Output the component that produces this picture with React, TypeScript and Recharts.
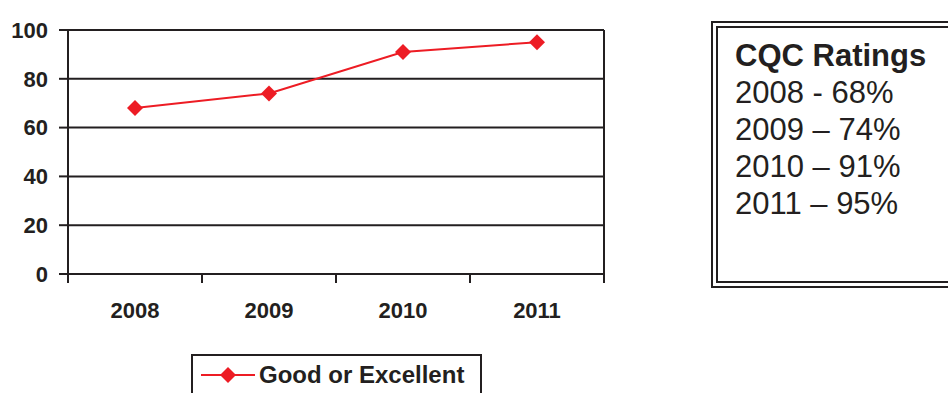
import { LineChart, Line, XAxis, YAxis, CartesianGrid, Legend, ReferenceLine } from 'recharts';

const years = ['2008', '2009', '2010', '2011'];
const goodOrExcellent = [68, 74, 91, 95];
const yTicks = [0, 20, 40, 60, 80, 100];
const ratingLines = ['2008 - 68%', '2009 – 74%', '2010 – 91%', '2011 – 95%'];

const RED = '#ed1c24';
const INK = '#231f20';
const FONT = '"Liberation Sans", Arial, sans-serif';

// points sit in the middle of each year band, ticks on the band edges
const data = years.map((year, i) => ({ pos: i + 0.5, year, value: goodOrExcellent[i] }));
const xTicks = years.flatMap((_, i) => [i, i + 0.5]).concat(years.length);

const Diamond = ({ cx, cy }: any) => {
  if (cx == null || cy == null) return null;
  const r = 8;
  return <path d={`M${cx},${cy - r}L${cx + r},${cy}L${cx},${cy + r}L${cx - r},${cy}Z`} fill={RED} />;
};

const XTick = ({ x, y, payload }: any) => {
  const v = payload.value;
  if (Number.isInteger(v)) {
    return <line x1={x} x2={x} y1={y} y2={y + 9} stroke={INK} strokeWidth={2} />;
  }
  const label = years[Math.floor(v)];
  return (
    <text x={x} y={y + 44} textAnchor="middle" fontFamily={FONT} fontWeight="bold" fontSize={22} fill={INK}>
      {label}
    </text>
  );
};

const LegendBox = () => (
  <div
    style={{
      border: `2px solid ${INK}`,
      width: 291,
      height: 50,
      boxSizing: 'border-box',
      display: 'flex',
      alignItems: 'flex-start',
      paddingTop: 6,
      paddingLeft: 6,
      background: '#fff'
    }}
  >
    <svg width={58} height={24} style={{ marginTop: 1 }}>
      <line x1={2} x2={56} y1={12} y2={12} stroke={RED} strokeWidth={2} />
      <path d="M29,4L37,12L29,20L21,12Z" fill={RED} />
    </svg>
    <span style={{ fontFamily: FONT, fontWeight: 'bold', fontSize: 24, color: INK, marginLeft: 2, lineHeight: '26px' }}>
      Good or Excellent
    </span>
  </div>
);

export default function App() {
  return (
    <div style={{ position: 'absolute', left: 0, top: 0, width: 948, height: 393, overflow: 'hidden', background: '#fff' }}>
      <LineChart width={640} height={393} data={data} margin={{ top: 30, right: 36, bottom: 79, left: 0 }}>
        <CartesianGrid vertical={false} stroke={INK} strokeWidth={2} />
        <ReferenceLine x={years.length} stroke={INK} strokeWidth={2} />
        <XAxis
          type="number"
          dataKey="pos"
          domain={[0, years.length]}
          ticks={xTicks}
          interval={0}
          tick={<XTick />}
          tickLine={false}
          tickSize={0}
          tickMargin={0}
          height={40}
          axisLine={{ stroke: INK, strokeWidth: 2 }}
        />
        <YAxis
          domain={[0, 100]}
          ticks={yTicks}
          width={68}
          tickSize={9}
          tickMargin={11}
          axisLine={{ stroke: INK, strokeWidth: 2 }}
          tickLine={{ stroke: INK, strokeWidth: 2 }}
          tick={{ fill: INK, fontFamily: FONT, fontWeight: 'bold', fontSize: 22 }}
        />
        <Legend
          layout="horizontal"
          verticalAlign="middle"
          align="center"
          content={<LegendBox />}
          wrapperStyle={{ position: 'absolute', left: 191, top: 354, width: 'auto' }}
        />
        <Line
          type="linear"
          dataKey="value"
          name="Good or Excellent"
          stroke={RED}
          strokeWidth={2}
          dot={<Diamond />}
          activeDot={false}
          isAnimationActive={false}
        />
      </LineChart>

      <div
        style={{
          position: 'absolute',
          left: 711,
          top: 21,
          width: 260,
          height: 267,
          boxSizing: 'border-box',
          border: `7px double ${INK}`,
          paddingLeft: 17,
          paddingTop: 9,
          fontFamily: FONT,
          fontSize: 31,
          lineHeight: '37px',
          color: INK
        }}
      >
        <div style={{ fontWeight: 'bold' }}>CQC Ratings</div>
        {ratingLines.map((line) => (
          <div key={line}>{line}</div>
        ))}
      </div>
    </div>
  );
}
